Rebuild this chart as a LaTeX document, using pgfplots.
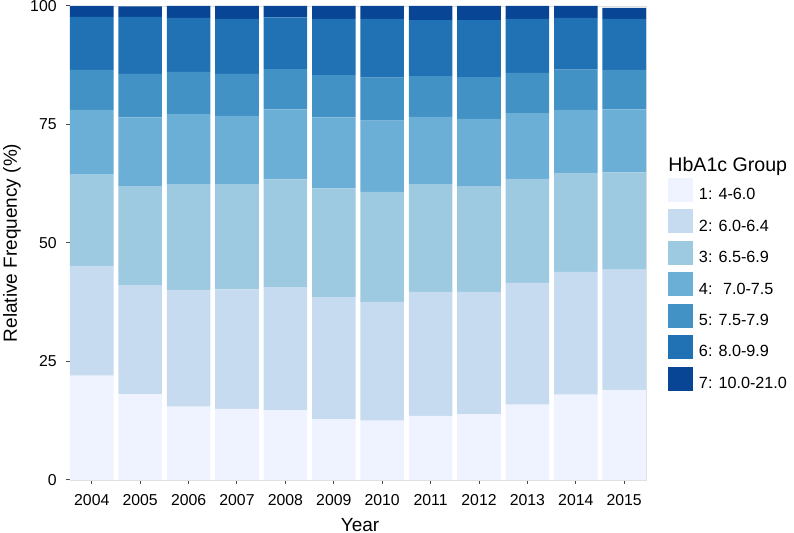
\documentclass[border=0pt]{standalone}
\usepackage{fontspec}
\setmainfont{Liberation Sans}
\usepackage{pgfplots}
\usepackage{pgfplotstable}
\pgfplotsset{compat=1.18}
\definecolor{c1}{HTML}{EFF3FF}
\definecolor{c2}{HTML}{C6DBEF}
\definecolor{c3}{HTML}{9ECAE1}
\definecolor{c4}{HTML}{6BAED6}
\definecolor{c5}{HTML}{4292C6}
\definecolor{c6}{HTML}{2171B5}
\definecolor{c7}{HTML}{084594}
\pgfplotstableread{
x  g1   g2   g3   g4   g5  g6   g7
1  22.0 23.1 19.3 13.7 8.4 11.2 2.3
2  18.1 23.0 20.8 14.6 9.2 12.0 2.2
3  15.5 24.6 22.2 14.9 8.9 11.4 2.5
4  15.0 25.2 22.1 14.5 8.9 11.6 2.7
5  14.7 26.0 22.7 14.8 8.5 10.9 2.4
6  12.8 25.8 22.9 15.0 8.9 11.9 2.7
7  12.5 25.1 23.2 15.0 9.1 12.4 2.7
8  13.5 26.2 22.7 14.2 8.6 11.8 3.0
9  13.9 25.8 22.3 14.2 8.8 12.0 3.0
10 15.9 25.7 21.9 13.9 8.5 11.4 2.7
11 18.0 25.9 20.9 13.3 8.5 10.9 2.5
12 19.0 25.4 20.5 13.3 8.3 10.8 2.3
}\datatable
\begin{document}
\begin{tikzpicture}
\useasboundingbox (0,0) rectangle (397pt,266.5pt);
\begin{axis}[
  at={(35pt,26.5pt)}, anchor=south west,
  scale only axis, width=288pt, height=237pt,
  ybar stacked, bar width=0.9,
  xmin=0.55, xmax=12.45, ymin=0, ymax=100,
  xtick={1,...,12},
  xticklabels={2004,2005,2006,2007,2008,2009,2010,2011,2012,2013,2014,2015},
  ytick={0,25,50,75,100},
  xtick pos=lower, ytick pos=left,
  tick align=outside, major tick length=2pt,
  tick style={black!70, line width=0.5pt},
  axis line style={black!12, line width=0.4pt},
  /pgf/number format/assume math mode=true,
  ticklabel style={font=\fontsize{7.9}{9}\selectfont, text=black},
  yticklabel style={inner sep=0pt, xshift=-4.5pt},
  xticklabel style={inner sep=0pt, yshift=-5pt},
  xlabel={Year}, ylabel={Relative Frequency (\%)},
  label style={font=\fontsize{9.5}{11}\selectfont},
  xlabel style={at={(axis description cs:0.5035,-0.1087)}, anchor=base, inner sep=0pt},
  ylabel style={at={(axis description cs:-0.1007,0.5)}, anchor=center, inner sep=0pt},
  legend image code/.code={\fill[#1] (0pt,-3.2pt) rectangle (12.5pt,8.8pt);},
  legend cell align=left,
  legend style={at={(1.0382,0.637)}, anchor=north west, draw=none, fill=none,
    inner sep=0pt, outer sep=0pt, row sep=3.33pt,
    font=\fontsize{8.1}{9}\selectfont,
    nodes={inner xsep=3pt, inner ysep=0pt}},
  clip=false,
]
\addplot[fill=c1, draw=none] table[x=x, y=g1] {\datatable};
\addlegendentry{1: 4-6.0}
\addplot[fill=c2, draw=none] table[x=x, y=g2] {\datatable};
\addlegendentry{2: 6.0-6.4}
\addplot[fill=c3, draw=none] table[x=x, y=g3] {\datatable};
\addlegendentry{3: 6.5-6.9}
\addplot[fill=c4, draw=none] table[x=x, y=g4] {\datatable};
\addlegendentry{4: \ 7.0-7.5}
\addplot[fill=c5, draw=none] table[x=x, y=g5] {\datatable};
\addlegendentry{5: 7.5-7.9}
\addplot[fill=c6, draw=none] table[x=x, y=g6] {\datatable};
\addlegendentry{6: 8.0-9.9}
\addplot[fill=c7, draw=none] table[x=x, y=g7] {\datatable};
\addlegendentry{7: 10.0-21.0}
\node[anchor=base west, inner sep=0pt, font=\fontsize{9.8}{11}\selectfont]
  at (rel axis cs:1.0382,0.650) {HbA1c Group};
\end{axis}
\end{tikzpicture}
\end{document}
